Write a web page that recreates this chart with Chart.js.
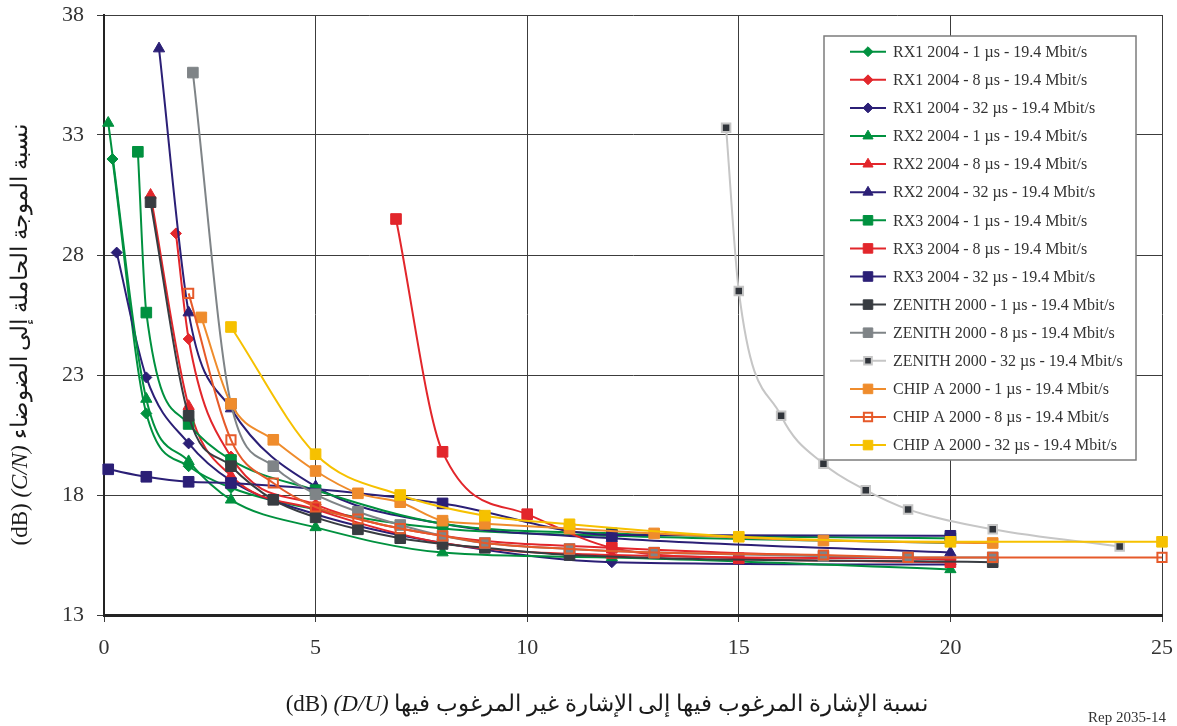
<!DOCTYPE html>
<html>
<head>
<meta charset="utf-8">
<script src="https://cdn.jsdelivr.net/npm/chart.js@4/dist/chart.umd.min.js"></script>
<style>
  html, body { margin: 0; padding: 0; background: #fff; }
  #c { display: block; }
</style>
</head>
<body>
<canvas id="c" width="1177" height="726"></canvas>
<script>
// C/N threshold (dB) versus D/U ratio (dB), per receiver and echo delay

const seriesNames = [
  'RX1 2004 - 1 µs - 19.4 Mbit/s',
  'RX1 2004 - 8 µs - 19.4 Mbit/s',
  'RX1 2004 - 32 µs - 19.4 Mbit/s',
  'RX2 2004 - 1 µs - 19.4 Mbit/s',
  'RX2 2004 - 8 µs - 19.4 Mbit/s',
  'RX2 2004 - 32 µs - 19.4 Mbit/s',
  'RX3 2004 - 1 µs - 19.4 Mbit/s',
  'RX3 2004 - 8 µs - 19.4 Mbit/s',
  'RX3 2004 - 32 µs - 19.4 Mbit/s',
  'ZENITH 2000 - 1 µs - 19.4 Mbit/s',
  'ZENITH 2000 - 8 µs - 19.4 Mbit/s',
  'ZENITH 2000 - 32 µs - 19.4 Mbit/s',
  'CHIP A 2000 - 1 µs - 19.4 Mbit/s',
  'CHIP A 2000 - 8 µs - 19.4 Mbit/s',
  'CHIP A 2000 - 32 µs - 19.4 Mbit/s'
];

// D/U (x) and C/N (y) for each curve
const rx1_1us_x = [0.2, 1, 2, 3, 5, 8, 12, 20];
const rx1_1us_y = [32.0, 21.4, 19.2, 18.3, 17.4, 16.6, 16.3, 16.0];
const rx1_8us_x = [1.7, 2, 3, 5, 8, 12, 20];
const rx1_8us_y = [28.9, 24.5, 19.6, 17.6, 16.3, 15.8, 15.3];
const rx1_32us_x = [0.3, 1, 2, 3, 5, 8, 12, 20];
const rx1_32us_y = [28.1, 22.9, 20.15, 18.6, 17.2, 16.0, 15.2, 15.1];

const rx2_1us_x = [0.1, 1, 2, 3, 5, 8, 12, 20];
const rx2_1us_y = [33.5, 22.0, 19.4, 17.8, 16.65, 15.6, 15.4, 14.9];
const rx2_8us_x = [1.1, 2, 3, 5, 8, 12, 20];
const rx2_8us_y = [30.5, 21.7, 18.8, 17.4, 16.0, 15.5, 15.35];
const rx2_32us_x = [1.3, 2, 3, 5, 8, 12, 20];
const rx2_32us_y = [36.6, 25.6, 21.6, 18.35, 16.8, 16.2, 15.6];

const rx3_1us_x = [0.8, 1, 2, 3, 5, 8, 12, 20];
const rx3_1us_y = [32.3, 25.6, 20.96, 19.46, 18.2, 16.8, 16.4, 16.2];
const rx3_8us_x = [6.9, 8, 10, 12, 15, 20];
const rx3_8us_y = [29.5, 19.8, 17.2, 15.8, 15.36, 15.2];
const rx3_32us_x = [0.1, 1, 2, 3, 8, 12, 20];
const rx3_32us_y = [19.07, 18.76, 18.55, 18.5, 17.65, 16.33, 16.3];

const zen_1us_x = [1.1, 2, 3, 4, 5, 6, 7, 8, 9, 11, 21];
const zen_1us_y = [30.2, 21.3, 19.2, 17.8, 17.07, 16.57, 16.2, 15.96, 15.8, 15.5, 15.2];
const zen_8us_x = [2.1, 3, 4, 5, 6, 7, 8, 9, 11, 13, 17, 19, 21];
const zen_8us_y = [35.6, 21.8, 19.2, 18.03, 17.3, 16.75, 16.3, 16.0, 15.75, 15.6, 15.46, 15.4, 15.4];
const zen_32us_x = [14.7, 15, 16, 17, 18, 19, 21, 24];
const zen_32us_y = [33.3, 26.5, 21.3, 19.3, 18.2, 17.4, 16.57, 15.85];

const chipA_1us_x = [2.3, 3, 4, 5, 6, 7, 8, 9, 11, 13, 17, 21];
const chipA_1us_y = [25.4, 21.8, 20.3, 19.0, 18.07, 17.7, 16.93, 16.8, 16.6, 16.4, 16.1, 16.0];
const chipA_8us_x = [2, 3, 4, 5, 6, 7, 8, 9, 11, 13, 17, 19, 21, 25];
const chipA_8us_y = [26.4, 20.3, 18.5, 17.5, 17.0, 16.6, 16.3, 16.0, 15.75, 15.6, 15.5, 15.4, 15.4, 15.4];
const chipA_32us_x = [3, 5, 7, 9, 11, 15, 20, 25];
const chipA_32us_y = [25.0, 19.7, 18.0, 17.14, 16.78, 16.26, 16.05, 16.05];

const seriesX = [rx1_1us_x, rx1_8us_x, rx1_32us_x, rx2_1us_x, rx2_8us_x, rx2_32us_x,
                 rx3_1us_x, rx3_8us_x, rx3_32us_x, zen_1us_x, zen_8us_x, zen_32us_x,
                 chipA_1us_x, chipA_8us_x, chipA_32us_x];
const seriesY = [rx1_1us_y, rx1_8us_y, rx1_32us_y, rx2_1us_y, rx2_8us_y, rx2_32us_y,
                 rx3_1us_y, rx3_8us_y, rx3_32us_y, zen_1us_y, zen_8us_y, zen_32us_y,
                 chipA_1us_y, chipA_8us_y, chipA_32us_y];

// Axis ranges
const xRange = [0, 25];
const yRange = [13, 38];
const tickStep = 5;

// ---- appearance ----
const SERIF = '"Liberation Serif", "Times New Roman", "DejaVu Serif", serif';
const GREEN = '#00913f', RED = '#e2262b', NAVY = '#2b1f76', DARK = '#383c41',
      GRAY = '#7f8487', LIGHT = '#c6c6c6', ORANGE = '#ef8c2c', ORRED = '#e65a2a', YELLOW = '#f6c100';

const looks = [
  { line: GREEN, style: 'rectRot',  r: 5.5, fill: GREEN, edge: GREEN, ew: 1 },
  { line: RED,   style: 'rectRot',  r: 5.5, fill: RED,   edge: RED,   ew: 1 },
  { line: NAVY,  style: 'rectRot',  r: 5.5, fill: NAVY,  edge: NAVY,  ew: 1 },
  { line: GREEN, style: 'triangle', r: 6.5, fill: GREEN, edge: GREEN, ew: 1 },
  { line: RED,   style: 'triangle', r: 6.5, fill: RED,   edge: RED,   ew: 1 },
  { line: NAVY,  style: 'triangle', r: 6.5, fill: NAVY,  edge: NAVY,  ew: 1 },
  { line: GREEN, style: 'rect',     r: 7.5, fill: GREEN, edge: GREEN, ew: 1 },
  { line: RED,   style: 'rect',     r: 7.5, fill: RED,   edge: RED,   ew: 1 },
  { line: NAVY,  style: 'rect',     r: 7.5, fill: NAVY,  edge: NAVY,  ew: 1 },
  { line: DARK,  style: 'rect',     r: 7.5, fill: DARK,  edge: DARK,  ew: 1 },
  { line: GRAY,  style: 'rect',     r: 7.5, fill: GRAY,  edge: GRAY,  ew: 1 },
  { line: LIGHT, style: 'rect',     r: 6,   fill: '#30343a', edge: LIGHT, ew: 2 },
  { line: ORANGE,style: 'rect',     r: 7.5, fill: ORANGE, edge: ORANGE, ew: 1 },
  { line: ORRED, style: 'rect',     r: 6.5, fill: 'rgba(255,255,255,0)', edge: ORRED, ew: 2 },
  { line: YELLOW,style: 'rect',     r: 7.5, fill: YELLOW, edge: YELLOW, ew: 1 }
];

const datasets = seriesNames.map((name, i) => ({
  label: name,
  data: seriesX[i].map((x, k) => ({ x: x, y: seriesY[i][k] })),
  borderColor: looks[i].line,
  borderWidth: 2,
  pointStyle: looks[i].style,
  pointRadius: looks[i].r,
  pointBackgroundColor: looks[i].fill,
  pointBorderColor: looks[i].edge,
  pointBorderWidth: looks[i].ew,
  cubicInterpolationMode: 'monotone',
  fill: false,
  clip: false,
  order: -i
}));

// Legend box and axis captions
const captions = {
  id: 'captions',
  afterDraw(chart) {
    const ctx = chart.ctx;
    ctx.save();

    // legend
    const L = 824, T = 36, W = 312, H = 424;
    ctx.fillStyle = '#fff';
    ctx.fillRect(L, T, W, H);
    ctx.strokeStyle = '#7c7c7c';
    ctx.lineWidth = 1.5;
    ctx.strokeRect(L, T, W, H);
    chart.data.datasets.forEach((ds, i) => {
      const y = 51.7 + i * 28.1;
      ctx.strokeStyle = ds.borderColor;
      ctx.lineWidth = 2;
      ctx.beginPath();
      ctx.moveTo(850, y);
      ctx.lineTo(886, y);
      ctx.stroke();
      ctx.fillStyle = ds.pointBackgroundColor;
      ctx.strokeStyle = ds.pointBorderColor;
      ctx.lineWidth = ds.pointBorderWidth;
      Chart.helpers.drawPoint(ctx, {
        pointStyle: ds.pointStyle,
        radius: ds.pointRadius * 0.9,
        rotation: 0,
        borderWidth: ds.pointBorderWidth
      }, 868, y);
      ctx.fillStyle = '#333';
      ctx.font = '16px ' + SERIF;
      ctx.textAlign = 'left';
      ctx.textBaseline = 'middle';
      ctx.fillText(ds.label, 893, y + 1);
    });

    // mixed-style caption: plain / italic / plain pieces laid out left to right
    function caption(pieces, size) {
      let total = 0;
      pieces.forEach(p => {
        ctx.font = (p.it ? 'italic ' : '') + size + 'px ' + SERIF;
        p.w = ctx.measureText(p.t).width;
        total += p.w;
      });
      let x = -total / 2;
      pieces.forEach(p => {
        ctx.font = (p.it ? 'italic ' : '') + size + 'px ' + SERIF;
        ctx.fillText(p.t, x, 0);
        x += p.w;
      });
    }

    ctx.fillStyle = '#1a1a1a';
    ctx.textAlign = 'left';
    ctx.textBaseline = 'middle';

    // x-axis caption
    ctx.save();
    ctx.translate(607, 705);
    caption([
      { t: '(dB) ' },
      { t: '(D/U)', it: true },
      { t: ' نسبة الإشارة المرغوب فيها إلى الإشارة غير المرغوب فيها' }
    ], 23);
    ctx.restore();

    // y-axis caption
    ctx.save();
    ctx.translate(21, 335);
    ctx.rotate(-Math.PI / 2);
    caption([
      { t: '(dB) ' },
      { t: '(C/N)', it: true },
      { t: ' نسبة الموجة الحاملة إلى الضوضاء' }
    ], 23);
    ctx.restore();

    // figure reference
    ctx.font = '15px ' + SERIF;
    ctx.textAlign = 'right';
    ctx.fillStyle = '#333';
    ctx.fillText('Rep 2035-14', 1166, 718);

    ctx.restore();
  }
};

new Chart(document.getElementById('c'), {
  type: 'line',
  data: { datasets: datasets },
  options: {
    responsive: false,
    animation: false,
    layout: { padding: { top: 15, right: 15, left: 0, bottom: 0 } },
    plugins: { legend: { display: false }, tooltip: { enabled: false } },
    scales: {
      x: {
        type: 'linear',
        min: xRange[0], max: xRange[1],
        ticks: { stepSize: tickStep, color: '#333', font: { family: SERIF, size: 22 }, padding: 13, maxRotation: 0 },
        grid: { color: '#3c3c3c', lineWidth: 1, tickLength: 7 },
        border: { color: '#232323', width: 3 },
        afterFit(s) { s.height = 111; s.paddingLeft = 0; s.paddingRight = 0; }
      },
      y: {
        type: 'linear',
        min: yRange[0], max: yRange[1],
        ticks: { stepSize: tickStep, color: '#333', font: { family: SERIF, size: 22 }, padding: 13 },
        grid: { color: '#3c3c3c', lineWidth: 1, tickLength: 7 },
        border: { color: '#232323', width: 2 },
        afterFit(s) { s.width = 104; s.paddingTop = 0; s.paddingBottom = 0; }
      }
    }
  },
  plugins: [captions]
});
</script>
</body>
</html>
